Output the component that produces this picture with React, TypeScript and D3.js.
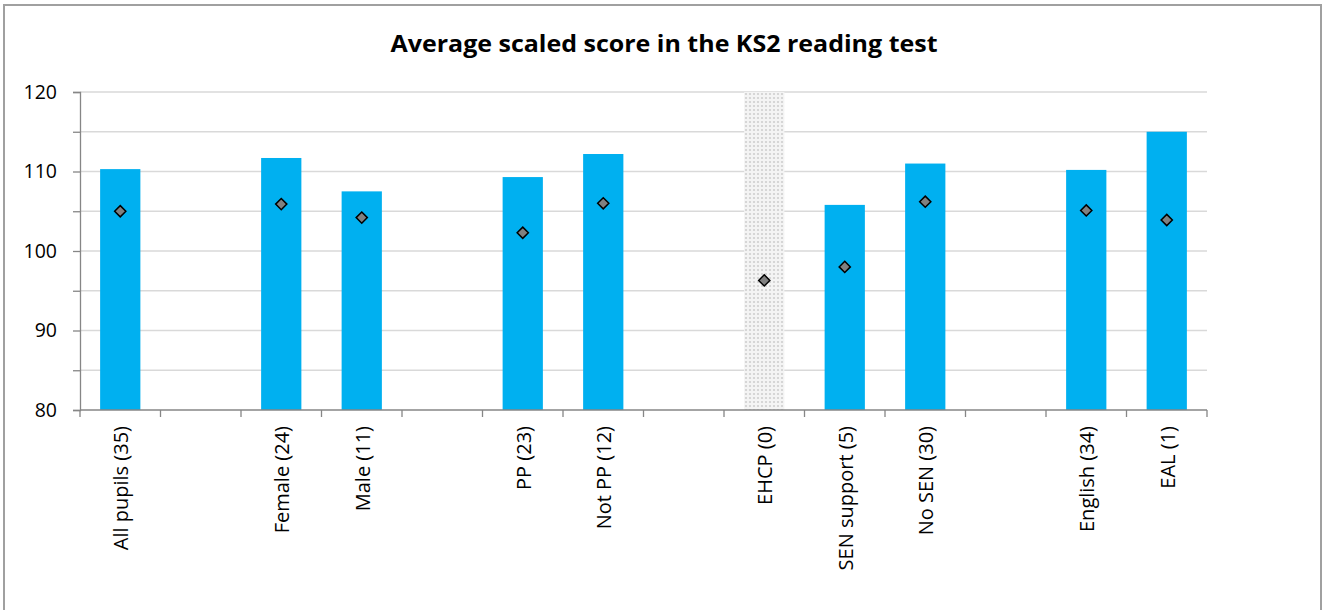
import React, { useRef, useEffect } from "react";
import * as d3 from "d3";

// slots in order, "" marks an empty gap between groups
const categories = [
  "All pupils (35)", "", "Female (24)", "Male (11)", "",
  "PP (23)", "Not PP (12)", "", "EHCP (0)", "SEN support (5)",
  "No SEN (30)", "", "English (34)", "EAL (1)",
];
const schoolScores = [110.3, null, 111.7, 107.5, null, 109.3, 112.2, null, null, 105.8, 111.0, null, 110.2, 115.0];
const nationalScores = [105.0, null, 105.9, 104.2, null, 102.3, 106.0, null, 96.3, 98.0, 106.2, null, 105.1, 103.9];
const noDataSlots = ["EHCP (0)"];
const yTicks = [80, 85, 90, 95, 100, 105, 110, 115, 120];
const yLabels = [80, 90, 100, 110, 120];

export default function App() {
  const svgRef = useRef<SVGSVGElement>(null);

  useEffect(() => {
    const svg = d3.select(svgRef.current);
    svg.selectAll("*").remove();
    const W = 1324, H = 610;
    const m = { left: 80, right: 117, top: 92, bottom: 200 };
    const font = "'Open Sans', 'Noto Sans', sans-serif";

    const keys = categories.map((_, i) => String(i));
    const x = d3.scaleBand().domain(keys).range([m.left, W - m.right]).paddingInner(0).paddingOuter(0);
    const y = d3.scaleLinear().domain([80, 120]).range([H - m.bottom, m.top]);
    const barW = x.bandwidth() * 0.5;

    const defs = svg.append("defs");
    const pat = defs.append("pattern").attr("id", "dots").attr("width", 4).attr("height", 4)
      .attr("patternUnits", "userSpaceOnUse");
    pat.append("rect").attr("width", 4).attr("height", 4).attr("fill", "#f4f4f4");
    pat.append("circle").attr("cx", 2).attr("cy", 2).attr("r", 1.1).attr("fill", "#cfcfcf");

    // outer frame
    svg.append("rect").attr("x", 4).attr("y", 5).attr("width", W - 7).attr("height", H + 10)
      .attr("fill", "white").attr("stroke", "#a0a0a0").attr("stroke-width", 2);

    svg.append("text").attr("x", 664).attr("y", 52).attr("text-anchor", "middle")
      .attr("font-family", font).attr("font-weight", "bold").attr("font-size", 24)
      .attr("textLength", 547).attr("lengthAdjust", "spacingAndGlyphs")
      .text("Average scaled score in the KS2 reading test");

    // gridlines
    svg.append("g").selectAll("line").data(yTicks.filter((t) => t > 80)).join("line")
      .attr("x1", m.left).attr("x2", W - m.right)
      .attr("y1", (d) => y(d)).attr("y2", (d) => y(d))
      .attr("stroke", "#d9d9d9").attr("stroke-width", 1.3);

    // no-data shading
    svg.append("g").selectAll("rect").data(noDataSlots).join("rect")
      .attr("x", (d) => x(String(categories.indexOf(d)))! + (x.bandwidth() - barW) / 2)
      .attr("y", y(120)).attr("width", barW).attr("height", y(80) - y(120))
      .attr("fill", "url(#dots)");

    // bars
    svg.append("g").selectAll("rect")
      .data(schoolScores.map((v, i) => ({ v, k: keys[i] })).filter((d) => d.v != null))
      .join("rect")
      .attr("x", (d) => x(d.k)! + (x.bandwidth() - barW) / 2)
      .attr("y", (d) => y(d.v as number)).attr("width", barW)
      .attr("height", (d) => y(80) - y(d.v as number))
      .attr("fill", "#00b0f0");

    // axes
    const yAxis = svg.append("g").attr("transform", `translate(${m.left},0)`)
      .call(d3.axisLeft(y).tickValues(yTicks).tickSize(7).tickFormat(() => ""));
    yAxis.selectAll("path,line").attr("stroke", "#868686").attr("stroke-width", 1.3);
    svg.append("g").selectAll("text").data(yLabels).join("text")
      .attr("x", m.left - 23).attr("y", (d) => y(d)).attr("dy", "0.35em")
      .attr("text-anchor", "end").attr("font-family", font).attr("font-size", 19.5)
      .attr("fill", "#000").text((d) => d);

    const xAxis = svg.append("g").attr("transform", `translate(0,${y(80)})`);
    xAxis.append("line").attr("x1", m.left).attr("x2", W - m.right)
      .attr("stroke", "#868686").attr("stroke-width", 1.3);
    const bounds = keys.map((k) => x(k)!).concat([W - m.right]);
    xAxis.selectAll("line.tick").data(bounds).join("line").attr("class", "tick")
      .attr("x1", (d) => d).attr("x2", (d) => d).attr("y1", 0).attr("y2", 7)
      .attr("stroke", "#868686").attr("stroke-width", 1.3);
    xAxis.selectAll("text").data(categories.map((c, i) => ({ c, k: keys[i] })).filter((d) => d.c !== ""))
      .join("text")
      .attr("transform", (d) => `translate(${x(d.k)! + x.bandwidth() / 2 + 1},16) rotate(-90)`)
      .attr("dy", "0.35em").attr("text-anchor", "end")
      .attr("font-family", font).attr("font-size", 20).attr("fill", "#000")
      .text((d) => d.c);

    // national averages as diamonds
    svg.append("g").selectAll("path")
      .data(nationalScores.map((v, i) => ({ v, k: keys[i] })).filter((d) => d.v != null))
      .join("path")
      .attr("transform", (d) => `translate(${x(d.k)! + x.bandwidth() / 2},${y(d.v as number)})`)
      .attr("d", d3.symbol().type(d3.symbolDiamond2).size(80)())
      .attr("fill", "#808080").attr("stroke", "#000").attr("stroke-width", 1.5);
  }, []);

  return <svg ref={svgRef} width={1324} height={610} style={{ position: "absolute", left: 0, top: 0 }} />;
}
